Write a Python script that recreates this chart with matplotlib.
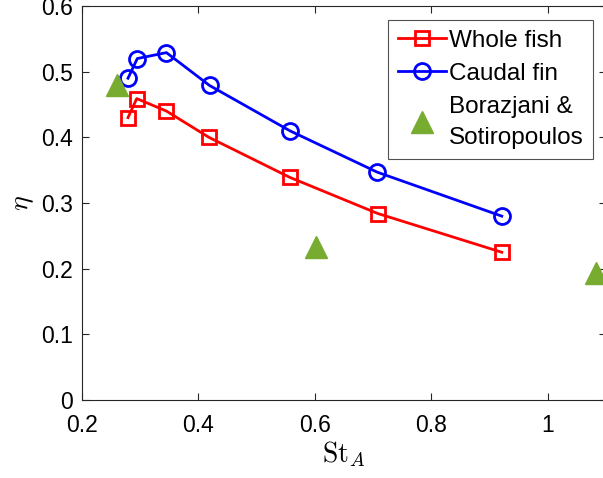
import matplotlib.pyplot as plt

plt.rcParams['font.family'] = ['Liberation Sans', 'DejaVu Sans']
plt.rcParams['mathtext.fontset'] = 'cm'

# dados
st_fish = [0.279, 0.294, 0.345, 0.418, 0.557, 0.708, 0.921]
eta_fish = [0.430, 0.459, 0.440, 0.400, 0.339, 0.284, 0.225]

st_fin = [0.279, 0.295, 0.345, 0.419, 0.557, 0.707, 0.921]
eta_fin = [0.490, 0.520, 0.529, 0.479, 0.410, 0.347, 0.280]

st_bs = [0.26, 0.602, 1.082]
eta_bs = [0.480, 0.233, 0.193]

fig = plt.figure(figsize=(6.03, 4.78), dpi=100)
ax = fig.add_axes([82 / 603, 78 / 478, 524 / 603, 394 / 478])

ax.plot(st_fish, eta_fish, '-s', color='red', linewidth=2, markersize=9.5,
        markerfacecolor='none', markeredgewidth=2, label='Whole fish')
ax.plot(st_fin, eta_fin, '-o', color='blue', linewidth=2, markersize=11.5,
        markerfacecolor='none', markeredgewidth=2, label='Caudal fin')
ax.plot(st_bs, eta_bs, '^', color=(0.466, 0.674, 0.188), markersize=16,
        linestyle='none', label='Borazjani &\nSotiropoulos')

ax.set_xlim(0.2, 1.1)
ax.set_ylim(0, 0.6)
ax.set_xticks([0.2, 0.4, 0.6, 0.8, 1.0])
ax.set_xticklabels(['0.2', '0.4', '0.6', '0.8', '1'])
ax.set_yticks([0, 0.1, 0.2, 0.3, 0.4, 0.5, 0.6])
ax.set_yticklabels(['0', '0.1', '0.2', '0.3', '0.4', '0.5', '0.6'])

ax.tick_params(direction='in', top=True, right=True, length=5,
               labelsize=16.5, color='0.15', width=0.8)
ax.tick_params(axis='x', pad=10)
ax.tick_params(axis='y', pad=6.5)
for s in ax.spines.values():
    s.set_color('0.15')
    s.set_linewidth(0.8)

ax.set_xlabel(r'$\mathrm{St}_A$', fontsize=20, labelpad=2)
ax.set_ylabel(r'$\eta$', fontsize=20, labelpad=4)

leg = ax.legend(loc='upper left', bbox_to_anchor=(306 / 524, 380 / 394),
                fontsize=17.5, fancybox=False, edgecolor='0.15',
                handlelength=2.0, handletextpad=0.1, borderpad=0.4,
                labelspacing=0.45, borderaxespad=0)
leg.get_frame().set_linewidth(0.8)
leg.get_texts()[2].set_linespacing(1.55)

fig.savefig('out.png', dpi=100)
